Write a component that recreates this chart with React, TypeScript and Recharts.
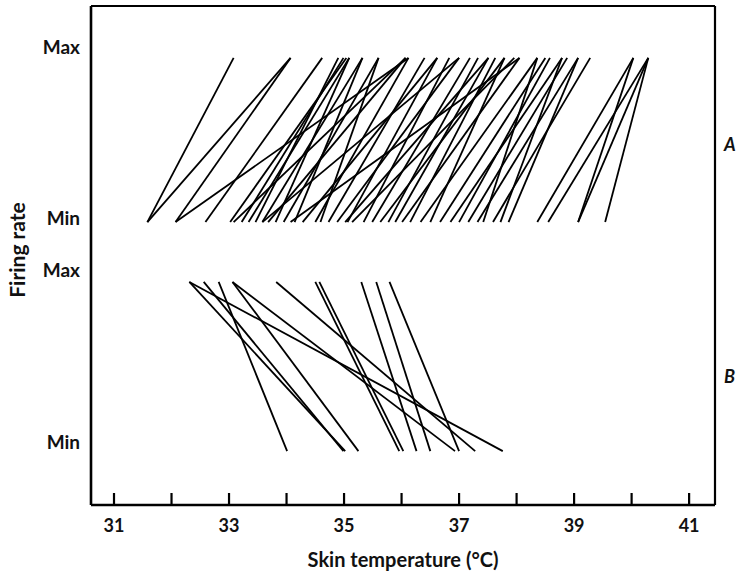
import React from 'react';
import { LineChart, Line, XAxis, YAxis, ReferenceLine } from 'recharts';

// Panel A (warm fibres): temperature at minimum firing -> temperature at maximum firing
const aMinTemps = [31.58, 31.58, 32.07, 32.07, 32.59, 33.02, 33.08, 33.22, 33.34, 33.46, 33.58, 33.68, 33.81, 33.95, 34.07, 34.14, 34.28, 34.5, 34.59, 34.73, 34.88, 35.06, 35.14, 35.34, 35.49, 35.63, 35.77, 35.89, 36.01, 36.15, 36.33, 36.5, 36.67, 36.85, 37.0, 37.16, 37.32, 37.42, 37.59, 37.72, 37.86, 38.36, 38.55, 39.07, 39.07, 39.54, 33.58, 35.02];
const aMaxTemps = [33.08, 34.07, 34.07, 36.12, 34.62, 35.04, 36.07, 34.99, 35.09, 34.9, 35.32, 36.07, 35.09, 35.6, 38.05, 35.32, 36.62, 36.12, 35.6, 36.4, 37.0, 36.62, 37.96, 36.83, 37.19, 37.79, 37.33, 37.51, 38.05, 37.63, 38.36, 37.79, 38.5, 38.79, 38.58, 38.88, 39.07, 38.36, 39.28, 38.79, 39.07, 40.03, 40.29, 40.03, 40.29, 40.29, 37.0, 37.51];

// Panel B (cold fibres): temperature at maximum firing -> temperature at minimum firing
const bMaxTemps = [32.31, 32.31, 32.56, 32.82, 33.06, 33.06, 33.82, 34.5, 34.57, 35.3, 35.56, 35.79];
const bMinTemps = [35.02, 37.76, 34.99, 34.01, 35.25, 36.93, 37.28, 35.96, 36.03, 36.26, 36.5, 37.0];

// Firing-rate levels on a 0-100 vertical scale
const A_MAX = 89.6;
const A_MIN = 56.7;
const B_MAX = 44.7;
const B_MIN = 10.8;

const X_DOMAIN: [number, number] = [30.6, 41.45];
const Y_DOMAIN: [number, number] = [0, 100];

const xTicks = [31, 32, 33, 34, 35, 36, 37, 38, 39, 40, 41];
const xTickLabels = ['31', '', '33', '', '35', '', '37', '', '39', '', '41'];
const yTickValues = [91.8, 57.5, 47.1, 12.6];
const yTickLabels = ['Max', 'Min', 'Max', 'Min'];

const FONT = 'Lato, "Open Sans", sans-serif';
const INK = '#111';

const segments = [
  ...aMinTemps.map((t, i) => [
    { t, y: A_MIN },
    { t: aMaxTemps[i], y: A_MAX },
  ]),
  ...bMaxTemps.map((t, i) => [
    { t, y: B_MAX },
    { t: bMinTemps[i], y: B_MIN },
  ]),
];

const XTick = (props: any) => {
  const { x, y, payload } = props;
  const idx = xTicks.indexOf(payload.value);
  const label = idx >= 0 ? xTickLabels[idx] : '';
  return (
    <g>
      <line x1={x} y1={y} x2={x} y2={y - 12} stroke="#000" strokeWidth={2.2} />
      {label ? (
        <text x={x} y={y + 27} textAnchor="middle" fontSize={18} fontWeight="bold" fill={INK} fontFamily={FONT}>
          {label}
        </text>
      ) : null}
    </g>
  );
};

const YTick = (props: any) => {
  const { x, y, payload } = props;
  const idx = yTickValues.indexOf(payload.value);
  return (
    <text x={x} y={y} dy={7} textAnchor="end" fontSize={19} fontWeight="bold" fill={INK} fontFamily={FONT}>
      {idx >= 0 ? yTickLabels[idx] : ''}
    </text>
  );
};

const FiringRateLabel = () => (
  <text
    x={0}
    y={0}
    transform="translate(16, 250) rotate(-90)"
    textAnchor="middle"
    dominantBaseline="central"
    fontSize={21}
    fontWeight="bold"
    fill={INK}
    fontFamily={FONT}
  >
    Firing rate
  </text>
);

export default function App() {
  return (
    <div style={{ position: 'absolute', left: 0, top: 0, width: 740, height: 577, background: '#fff' }}>
      <LineChart width={740} height={577} margin={{ top: 6, right: 25, bottom: 0, left: 0 }}>
        <XAxis
          type="number"
          dataKey="t"
          domain={X_DOMAIN}
          ticks={xTicks}
          allowDataOverflow
          height={72}
          tickLine={false}
          tickSize={0}
          tickMargin={0}
          tick={<XTick />}
          axisLine={{ stroke: '#000', strokeWidth: 2.6 }}
          label={{
            value: 'Skin temperature (°C)',
            position: 'insideBottom',
            offset: 10,
            style: { fontSize: 20, fontWeight: 'bold', fill: INK, fontFamily: FONT },
          }}
        />
        <YAxis
          type="number"
          domain={Y_DOMAIN}
          ticks={yTickValues}
          width={91}
          tickLine={false}
          tickSize={0}
          tickMargin={11}
          tick={<YTick />}
          axisLine={{ stroke: '#000', strokeWidth: 2.6 }}
          label={<FiringRateLabel />}
        />
        <ReferenceLine y={Y_DOMAIN[1]} stroke="#000" strokeWidth={2.2} ifOverflow="visible" />
        <ReferenceLine x={X_DOMAIN[1]} stroke="#000" strokeWidth={2.2} ifOverflow="visible" />
        {segments.map((seg, i) => (
          <Line
            key={i}
            data={seg}
            dataKey="y"
            type="linear"
            stroke="#000"
            strokeWidth={1.8}
            dot={false}
            activeDot={false}
            isAnimationActive={false}
          />
        ))}
      </LineChart>
      <span
        style={{
          position: 'absolute',
          left: 724,
          top: 133,
          fontFamily: FONT,
          fontStyle: 'italic',
          fontWeight: 'bold',
          fontSize: 18,
          color: INK,
        }}
      >
        A
      </span>
      <span
        style={{
          position: 'absolute',
          left: 724,
          top: 365,
          fontFamily: FONT,
          fontStyle: 'italic',
          fontWeight: 'bold',
          fontSize: 18,
          color: INK,
        }}
      >
        B
      </span>
    </div>
  );
}
